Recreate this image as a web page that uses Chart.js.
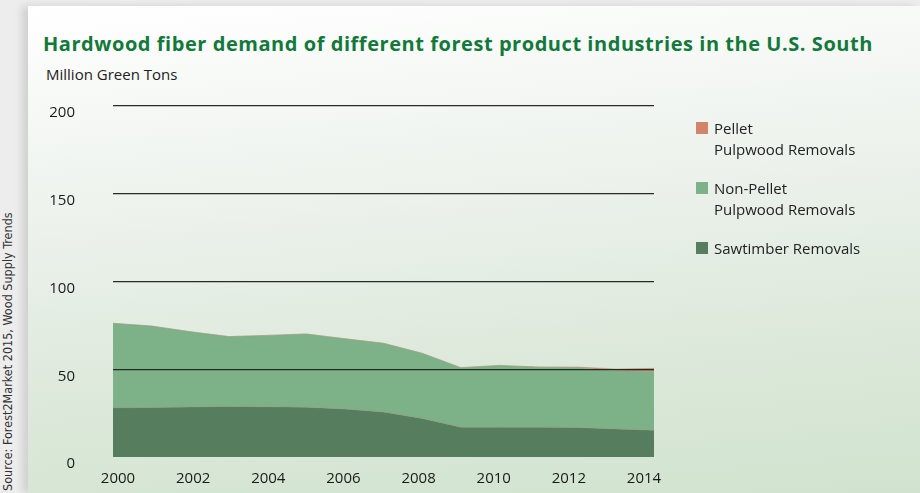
<!DOCTYPE html>
<html>
<head>
<meta charset="utf-8">
<script src="https://cdn.jsdelivr.net/npm/chart.js@4"></script>
<style>
  html, body { margin: 0; padding: 0; }
  body { width: 920px; height: 493px; overflow: hidden; background: #ededed; position: relative; font-family: 'Open Sans', sans-serif; }
  .card {
    position: absolute; left: 28px; top: 6px; width: 892px; height: 487px;
    background: linear-gradient(175deg, #ffffff 0%, #eef3ee 35%, #dde9db 70%, #d1e3cf 100%);
    box-shadow: -6px 0 8px rgba(0,0,0,0.12);
  }
  .title { position: absolute; left: 43px; top: 30px; font-size: 20px; font-weight: 700; color: #12793b; letter-spacing: 0.55px; white-space: nowrap; }
  .unit { position: absolute; left: 46px; top: 64px; font-size: 15px; color: #222; white-space: nowrap; }
  .source { position: absolute; left: 0px; top: 491px; transform-origin: 0 0; transform: rotate(-90deg); font-size: 12.5px; color: #333; white-space: nowrap; font-family: 'Liberation Sans Narrow', 'DejaVu Sans Condensed', sans-serif; }
  #wrap { position: absolute; left: 0; top: 0; width: 920px; height: 493px; }
  .legend { position: absolute; left: 696px; top: 118px; font-size: 15px; color: #222; }
  .legend .item { position: relative; padding-left: 18px; line-height: 21px; margin-bottom: 18px; }
  .legend .sw { position: absolute; left: 0; top: 4px; width: 12px; height: 12px; }
</style>
</head>
<body>
<div class="card"></div>
<div class="source">Source: Forest2Market 2015, Wood Supply Trends</div>
<div class="title">Hardwood fiber demand of different forest product industries in the U.S. South</div>
<div class="unit">Million Green Tons</div>
<div id="wrap"><canvas id="chart" width="920" height="493"></canvas></div>
<div class="legend" id="legend"></div>
<script>
// ---------------- DATA ----------------
const years = ['2000','2001','2002','2003','2004','2005','2006','2007','2008','2009','2010','2011','2012','2013','2014'];
const sawtimber = [28, 28.2, 28.5, 28.8, 28.6, 28.4, 27.3, 25.6, 22, 17, 17, 17, 16.8, 16, 15.2];
const nonPellet = [48.2, 46.4, 42.9, 39.8, 40.7, 41.7, 40.1, 39.2, 37.1, 33.9, 35.2, 34.2, 34.2, 33.2, 33.5];
const pellet = [0, 0, 0, 0, 0, 0, 0, 0, 0, 0, 0, 0.1, 0.3, 1.0, 1.8];
const yTicks = [0, 50, 100, 150, 200];
const xTicks = [2000, 2002, 2004, 2006, 2008, 2010, 2012, 2014];

const series = [
  { label: 'Sawtimber Removals', data: sawtimber, color: '#557d5e', legend: ['Sawtimber Removals'] },
  { label: 'Non-Pellet Pulpwood Removals', data: nonPellet, color: '#7db187', legend: ['Non-Pellet', 'Pulpwood Removals'] },
  { label: 'Pellet Pulpwood Removals', data: pellet, color: '#d2846a', legend: ['Pellet', 'Pulpwood Removals'] }
];

// legend (html, top to bottom = reverse stack order)
const leg = document.getElementById('legend');
series.slice().reverse().forEach(s => {
  const it = document.createElement('div');
  it.className = 'item';
  it.innerHTML = `<span class="sw" style="background:${s.color}"></span>${s.legend.join('<br>')}`;
  leg.appendChild(it);
});

Chart.defaults.font.family = "'Open Sans', sans-serif";
Chart.defaults.color = '#222';

new Chart(document.getElementById('chart'), {
  type: 'line',
  data: {
    labels: years,
    datasets: series.map((s, i) => ({
      label: s.label,
      data: s.data,
      backgroundColor: s.color,
      borderColor: 'rgba(160,150,120,0.55)',
      borderWidth: 0.8,
      pointRadius: 0,
      tension: 0,
      fill: i === 0 ? 'origin' : '-1'
    }))
  },
  options: {
    responsive: false,
    animation: false,
    layout: { padding: { top: 106, right: 266, left: 0, bottom: 0 } },
    plugins: { legend: { display: false }, tooltip: { enabled: false } },
    scales: {
      x: {
        offset: false,
        grid: { display: false },
        border: { display: false },
        ticks: { display: false },
        afterFit: sc => { sc.height = 0; }
      },
      // label axis: year labels in the source sit slightly inside the data ends
      xl: {
        type: 'linear',
        position: 'bottom',
        min: 1999.867, max: 2014.266,
        afterBuildTicks: sc => { sc.ticks = xTicks.map(v => ({ value: v })); },
        grid: { display: false },
        border: { display: false },
        ticks: { maxRotation: 0, padding: 5, font: { size: 15 }, color: '#1a1a1a', callback: v => String(v) },
        afterFit: sc => { sc.height = 36; }
      },
      y: {
        stacked: true,
        min: 0, max: 200,
        z: 1,
        afterBuildTicks: sc => { sc.ticks = yTicks.map(v => ({ value: v })); },
        grid: {
          z: 1, // gridlines over the areas, like the source
          drawTicks: true,
          tickLength: 38,
          tickColor: 'rgba(0,0,0,0)',
          color: c => (c.tick.value === 0 ? 'rgba(0,0,0,0)' : '#2a2a2a'),
          lineWidth: 1.2
        },
        border: { display: false },
        ticks: { padding: 0, labelOffset: 7, font: { size: 15 }, color: '#1a1a1a' },
        afterFit: sc => { sc.width = 113; }
      }
    }
  }
});
</script>
</body>
</html>
